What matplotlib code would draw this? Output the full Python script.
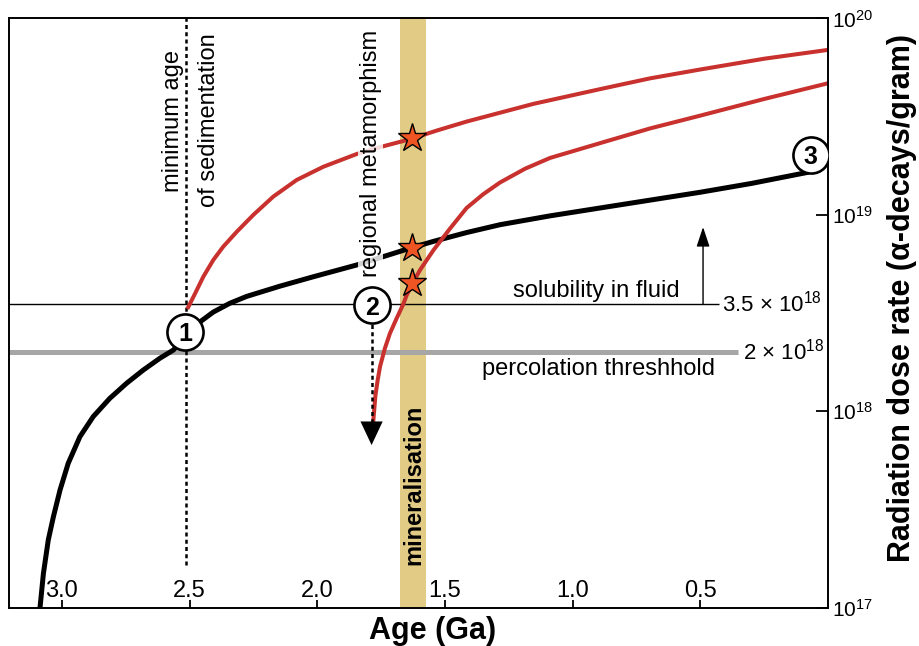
import numpy as np
import matplotlib.pyplot as plt
from matplotlib.ticker import NullLocator

plt.rcParams['font.family'] = ['Liberation Sans', 'DejaVu Sans']
plt.rcParams['mathtext.fontset'] = 'custom'
plt.rcParams['mathtext.rm'] = 'Liberation Sans'
plt.rcParams['mathtext.it'] = 'Liberation Sans:italic'
plt.rcParams['mathtext.bf'] = 'Liberation Sans:bold'

# --- dose rate curves (age in Ga, log10 of alpha-decays/gram) ---
age_black = [3.085, 3.072, 3.053, 3.033, 3.007, 2.975, 2.929, 2.877, 2.812, 2.746,
             2.681, 2.616, 2.563, 2.518, 2.459, 2.407, 2.342, 2.276, 2.146, 2.015,
             1.845, 1.637, 1.545, 1.415, 1.284, 1.088, 0.893, 0.697, 0.501, 0.300,
             0.085]
log_black = [17.005, 17.175, 17.345, 17.463, 17.599, 17.735, 17.871, 17.973, 18.066, 18.143,
             18.21, 18.27, 18.312, 18.38, 18.455, 18.505, 18.55, 18.585, 18.637, 18.685,
             18.745, 18.83, 18.865, 18.91, 18.95, 18.995, 19.035, 19.075, 19.115, 19.16,
             19.215]

age_red1 = [2.505, 2.478, 2.446, 2.407, 2.368, 2.315, 2.250, 2.172, 2.080, 1.976,
            1.845, 1.754, 1.637, 1.530, 1.415, 1.154, 0.893, 0.697, 0.501, 0.250, 0.0]
log_red1 = [18.53, 18.60, 18.685, 18.77, 18.838, 18.914, 19.0, 19.093, 19.178, 19.245,
            19.31, 19.345, 19.385, 19.43, 19.475, 19.565, 19.64, 19.695, 19.74, 19.795,
            19.84]

age_red2 = [1.780, 1.772, 1.763, 1.754, 1.735, 1.715, 1.690, 1.663, 1.650, 1.623,
            1.597, 1.545, 1.480, 1.415, 1.350, 1.284, 1.186, 1.088, 0.893, 0.697,
            0.501, 0.250, 0.0]
log_red2 = [17.955, 18.08, 18.16, 18.227, 18.32, 18.397, 18.47, 18.545, 18.59, 18.66,
            18.72, 18.82, 18.93, 19.035, 19.105, 19.165, 19.235, 19.29, 19.365, 19.44,
            19.505, 19.59, 19.67]

# mineralisation window and dated points
band = (1.572, 1.676)
star_age = [1.63, 1.63, 1.63]
star_log = [19.39, 18.83, 18.655]

# thresholds
solubility = 3.5e18
percolation = 2e18
min_sed_age = 2.513

# numbered stages
stage_age = [2.518, 1.787, 0.067]
stage_log = [18.405, 18.541, 19.305]
stage_lbl = ['1', '2', '3']

red = '#c8312d'

fig = plt.figure(figsize=(9.19, 6.46), dpi=100)
ax = fig.add_axes([0.0103, 0.0593, 0.8906, 0.9121])
ax.set_xlim(3.205, 0.0)
ax.set_yscale('log')
ax.set_ylim(1e17, 1e20)

ax.axvspan(band[0], band[1], color='#e2cb85', lw=0, zorder=0)

ax.hlines(solubility, 3.205, 0.427, color='k', lw=1.0, zorder=1)
ax.hlines(percolation, 3.205, 0.352, color='#a6a6a6', lw=3.6, zorder=1)
ax.vlines(min_sed_age, 10**17.217, 1e20, color='k', lw=1.8,
          linestyles=(0, (1.6, 1.3)), zorder=1)

ax.plot(age_black, 10**np.array(log_black), color='k', lw=3.6, zorder=2,
        solid_joinstyle='round')
ax.plot(age_red1, 10**np.array(log_red1), color=red, lw=2.9, zorder=2,
        solid_joinstyle='round')
ax.plot(age_red2, 10**np.array(log_red2), color=red, lw=2.9, zorder=2,
        solid_joinstyle='round')

# stage 2 drop below the percolation threshold
ax.vlines(1.787, 10**17.905, 10**18.45, color='k', lw=1.8,
          linestyles=(0, (1.6, 1.3)), zorder=2)
ax.annotate('', xy=(1.787, 10**17.828), xytext=(1.787, 10**18.3),
            arrowprops=dict(arrowstyle='-|>,head_length=1.7,head_width=0.8',
                            color='k', lw=0, shrinkA=0, shrinkB=0), zorder=3)
ax.annotate('', xy=(0.489, 10**18.938), xytext=(0.489, solubility),
            arrowprops=dict(arrowstyle='-|>,head_length=1.2,head_width=0.4',
                            color='k', lw=1.0, shrinkA=0, shrinkB=0), zorder=3)

ax.plot(star_age, 10**np.array(star_log), '*', ms=21, mfc='#ee5522', mec='k',
        mew=1.0, zorder=4)

ax.plot(stage_age, 10**np.array(stage_log), 'o', ms=26, mfc='white', mec='k',
        mew=1.9, zorder=5)
for a, l, s in zip(stage_age, stage_log, stage_lbl):
    ax.text(a, 10**l, s, ha='center', va='center_baseline', fontsize=18,
            fontweight='bold', zorder=6)

# annotations
ax.text(2.5646, 10**19.478, 'minimum age', rotation=90, ha='center', va='center',
        fontsize=17)
ax.text(2.424, 10**19.483, 'of sedimentation', rotation=90, ha='center',
        va='center', fontsize=17)
ax.text(1.791, 10**19.315, 'regional metamorphism', rotation=90, ha='center',
        va='center', fontsize=17, zorder=3,
        bbox=dict(boxstyle='square,pad=0.05', fc='white', ec='none', alpha=0.82))
ax.text(1.621, 10**17.625, 'mineralisation', rotation=90, ha='center',
        va='center', fontsize=17, fontweight='bold', zorder=3)
ax.text(0.5795, 10**18.582, 'solubility in fluid', ha='right', va='baseline',
        fontsize=17)
ax.text(0.4424, 10**18.185, 'percolation threshhold', ha='right', va='baseline',
        fontsize=17)
ax.text(0.415, 10**18.507, '3.5 × $10^{18}$', ha='left', va='baseline',
        fontsize=16)
ax.text(0.332, 10**18.265, '2 × $10^{18}$', ha='left', va='baseline',
        fontsize=16)

# axes styling
for s in ax.spines.values():
    s.set_linewidth(1.4)

xt = [3.0, 2.5, 2.0, 1.5, 1.0, 0.5]
ax.set_xticks(xt)
ax.set_xticklabels(['%.1f' % v for v in xt])
ax.xaxis.set_minor_locator(NullLocator())
ax.tick_params(axis='x', direction='in', length=5.5, width=1.3, pad=-20,
               labelsize=17)

ax.yaxis.tick_right()
yt = [1e17, 1e18, 1e19, 1e20]
ax.set_yticks(yt)
ax.set_yticklabels([r'$10^{17}$', r'$10^{18}$', r'$10^{19}$', r'$10^{20}$'])
ax.yaxis.set_minor_locator(NullLocator())
ax.tick_params(axis='y', direction='in', length=9, width=1.3, pad=3,
               labelsize=15)

fig.text(433 / 919, 7 / 646, 'Age (Ga)', ha='center', va='baseline',
         fontsize=22, fontweight='bold')
fig.text(917 / 919, 1 - 298 / 646, 'Radiation dose rate (α-decays/gram)',
         rotation=90, ha='right', va='center', fontsize=22, fontweight='bold')

fig.savefig('out.png', dpi=100)
